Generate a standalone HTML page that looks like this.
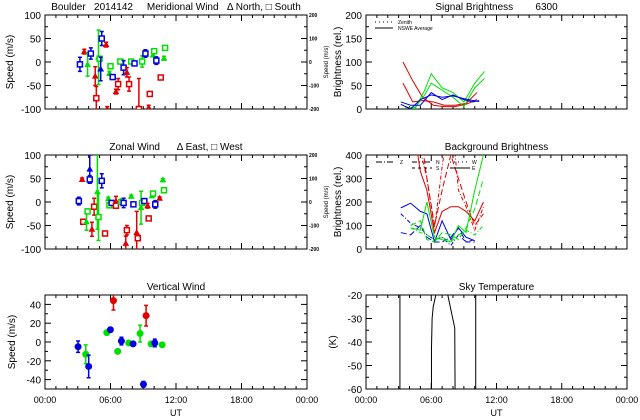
<!DOCTYPE html>
<html><head><meta charset="utf-8"><style>
body{margin:0;background:#fff}
svg{display:block;font-family:"Liberation Sans",sans-serif}
text{fill:#000;white-space:pre}
</style></head><body>
<svg id="c" width="640" height="420" viewBox="0 0 640 420"></svg>
<script>
// ---- Meridional wind ----
const merT=[3.2,3.6,3.9,4.2,4.6,4.7,4.9,5.0,5.1,5.2,5.6,5.7,5.9,6.0,6.2,6.5,6.7,6.9,7.2,7.5,7.7,7.9,8.2,8.6,8.9,9.2,9.5,9.6,9.9,10.0,10.2,10.6,10.9,11.0];
const merV=[-5,22,-5,18,-30,-77,10,7,-15,50,37,-100,-24,-9,-32,-63,-47,1,-12,-22,-47,1,-3,-100,1,18,-97,-68,15,23,3,-33,8,30];
const merE=[15,5,25,12,20,25,58,5,25,15,5,5,4,4,5,5,12,4,15,10,15,3,5,65,12,8,5,5,4,4,8,3,4,3];
const merC=["b","r","g","b","r","r","g","g","b","b","r","r","g","g","b","r","r","g","b","r","r","g","b","r","g","b","r","r","g","g","b","r","g","g"];
const merM=["s","t","t","s","t","s","t","s","t","s","t","t","t","s","s","t","s","s","s","t","s","s","s","s","s","s","t","s","t","s","s","s","t","s"];
// ---- Zonal wind ----
const zonT=[3.1,3.4,3.5,3.8,3.9,4.1,4.1,4.3,4.5,4.8,4.9,5.2,5.5,5.8,5.9,6.1,6.5,6.5,6.9,7.0,7.2,7.4,7.5,7.9,8.1,8.4,8.5,8.8,8.9,9.1,9.4,9.5,9.8,9.9,10.1,10.5,10.8,10.9];
const zonV=[2,48,-42,-42,-20,70,48,-58,-10,22,-32,45,-67,7,-7,-2,2,-8,2,0,-2,-88,-60,12,-5,-65,-77,-12,-2,2,-8,-35,13,18,-5,8,47,25];
const zonE=[8,3,3,18,5,30,8,15,18,80,50,15,5,3,3,5,10,5,3,3,10,15,10,3,3,45,4,35,5,5,5,5,3,3,8,3,3,3];
const zonC=["b","r","r","g","g","b","b","r","r","g","g","b","r","g","g","b","r","r","g","g","b","r","r","g","b","r","r","g","g","b","r","r","g","g","b","r","g","g"];
const zonM=["s","t","s","t","s","t","s","t","s","t","s","s","s","t","s","s","t","s","t","s","s","t","s","t","s","t","s","t","s","s","t","s","t","s","s","t","t","s"];
// ---- Vertical wind ----
const verT=[3.03,3.73,4.0,5.66,5.99,6.27,6.66,7.0,7.67,8.07,8.71,9.02,9.26,9.72,10.06,10.73];
const verV=[-5,-13,-26,10,13,44,-10,1,-1,-2,9,-45,28,-2,-1,-3];
const verE=[6,10,12,2,2,10,2,4,2,2,9,3,11,2,4,2];
const verC=["b","g","b","g","b","r","g","b","g","b","g","b","r","g","b","g"];
// ---- Signal brightness ----
const sigT1=[3.4,4.3,5.2,6.2,7.2,8.2,9.2,10.2];
const sigRed1=[100,60,25,8,5,5,10,20];
const sigRed2=[55,15,18,15,8,8,12,35];
const sigT2=[3.6,4.5,5.4,6.0,7.0,8.0,9.0,10.0,10.9];
const sigGreen1=[5,0,40,75,45,35,15,55,80];
const sigGreen2=[3,3,30,55,40,25,5,45,65];
const sigT3=[3.2,4.1,5.0,6.0,7.0,8.0,9.0,9.8,10.4];
const sigBlue1=[15,8,8,35,20,30,20,15,18];
const sigBlue2=[10,0,20,30,25,28,22,18,16];
// ---- Background brightness ----
const bgT=[3.2,4.1,5.0,5.6,6.3,7.0,7.8,8.5,9.2,10.0,10.8];
const bgRed1=[null,600,330,250,70,160,180,180,160,120,200];
const bgRed2=[null,600,420,300,90,350,600,250,180,80,180];
const bgRed3=[null,null,500,300,100,250,400,300,200,100,150];
const bgBlue1=[175,195,160,150,30,120,40,90,50,35,null];
const bgBlue2=[150,110,90,60,40,50,15,60,30,40,null];
const bgBlue3=[70,60,100,50,30,30,50,90,30,30,null];
const bgGreen1=[null,90,80,200,50,40,30,100,70,250,400];
const bgGreen2=[null,90,70,60,40,50,30,60,80,60,100];
const bgGreen3=[null,100,120,40,30,70,60,40,90,170,300];
// ---- Sky temperature ----
const skyA_T=[3.12,3.12]; const skyA_V=[-60,-20];
const skyB_T=[6.02,6.02,6.08,6.18,6.42]; const skyB_V=[-60,-43,-30,-25,-20];
const skyC_T=[7.52,8.16,8.19]; const skyC_V=[-20,-34,-60];
const skyD_T=[10.09,10.09]; const skyD_V=[-60,-20];

const COL={r:"#e00000",g:"#00e000",b:"#0000e0"};
const svg=document.getElementById('c');
const NS="http://www.w3.org/2000/svg";
function el(tag,attrs,parent){const e=document.createElementNS(NS,tag);for(const k in attrs)e.setAttribute(k,attrs[k]);(parent||svg).appendChild(e);return e;}
function txt(x,y,s,size,anchor,parent,rot){const t=el('text',{x:x,y:y,'font-size':size,'text-anchor':anchor||'middle'},parent);t.setAttributeNS("http://www.w3.org/XML/1998/namespace","xml:space","preserve");if(rot)t.setAttribute('transform','rotate(-90 '+x+' '+y+')');t.textContent=s;return t;}

function makePlot(name,x0,y0,x1,y1,ymin,ymax,yticks,yminor,title,ylab,xlabels,rightAxis,ylabOff){
  const g=el('g',{});
  
  
  const sx=t=>x0+t/24*(x1-x0);
  const sy=v=>y1-(v-ymin)/(ymax-ymin)*(y1-y0);
  el('rect',{x:x0,y:y0,width:x1-x0,height:y1-y0,fill:'none',stroke:'#000','stroke-width':1},g);
  for(let h=0;h<=24;h++){
    const len=(h%6==0)?6:3;const X=sx(h);
    el('line',{x1:X,y1:y1,x2:X,y2:y1-len,stroke:'#000'},g);
    el('line',{x1:X,y1:y0,x2:X,y2:y0+len,stroke:'#000'},g);
  }
  for(let v=ymin;v<=ymax+1e-9;v+=yminor){
    const major=yticks.some(t=>Math.abs(t-v)<1e-6);const len=major?6:3;const Y=sy(v);
    el('line',{x1:x0,y1:Y,x2:x0+len,y2:Y,stroke:'#000'},g);
    el('line',{x1:x1,y1:Y,x2:x1-len,y2:Y,stroke:'#000'},g);
  }
  yticks.forEach(v=>{const lab=txt(x0-4,sy(v)+4,String(v),10,'end',g);});
  const ti=txt((x0+x1)/2,y0-5,title,10,'middle',g);
  
  
  const yl=txt(x0-ylabOff,(y0+y1)/2,ylab,10,'middle',g,true);
  
  
  if(xlabels){
    ['00:00','06:00','12:00','18:00','00:00'].forEach((s,i)=>{const l=txt(sx(i*6),y1+14,s,9,'middle',g);});
    const u=txt((x0+x1)/2,y1+27,'UT',9,'middle',g);
    
    
  }
  if(rightAxis){
    [200,100,0,-100,-200].forEach((v,i)=>{const Y=y0+i*(y1-y0)/4;const l=txt(x1+2,Y+2,String(v),5,'start',g);l.setAttribute('font-weight','bold');});
    const r=txt(x1+21,(y0+y1)/2,'Speed (m/s)',6,'middle',g,true);
    
    
  }
  const cid='clip'+name;
  const cp=el('clipPath',{id:cid},g);el('rect',{x:x0,y:y0,width:x1-x0,height:y1-y0},cp);
  const data=el('g',{'clip-path':'url(#'+cid+')'},g);
  return {g,data,sx,sy};
}

function windPoints(p,T,V,E,C,M,name){
  for(let i=0;i<T.length;i++){
    const X=p.sx(T[i]),Y=p.sy(V[i]),c=COL[C[i]];
    const eb=el('path',{d:`M${X},${p.sy(V[i]+E[i])}V${p.sy(V[i]-E[i])}M${X-2},${p.sy(V[i]+E[i])}h4M${X-2},${p.sy(V[i]-E[i])}h4`,stroke:c,'stroke-width':1.5,fill:'none'},p.data);
    
    
    let m;
    if(M&&M[i]=='t') m=el('path',{d:`M${X-2.5},${Y+2}L${X},${Y-2.5}L${X+2.5},${Y+2}Z`,fill:c,stroke:c},p.data);
    else if(M) m=el('rect',{x:X-2.5,y:Y-2.5,width:5,height:5,fill:'#fff',stroke:c,'stroke-width':1.5},p.data);
    else m=el('circle',{cx:X,cy:Y,r:3.5,fill:c},p.data);
    
    
  }
}
function line(p,T,V,color,name,dash){
  let d='';let pen=false;
  for(let i=0;i<T.length;i++){if(V[i]==null){pen=false;continue;}d+=(pen?'L':'M')+p.sx(T[i])+','+p.sy(V[i]);pen=true;}
  const l=el('path',{d:d,stroke:color,fill:'none','stroke-width':1},p.data);
  if(dash)l.setAttribute('stroke-dasharray',dash);
  
  
}

const p1=makePlot('meridional-wind-panel',45,15,307,109,-100,100,[100,50,0,-50,-100],25,'Boulder   2014142     Meridional Wind   \u0394 North, \u25A1 South','Speed (m/s)',false,true,32);
windPoints(p1,merT,merV,merE,merC,merM,'meridional');
const p2=makePlot('zonal-wind-panel',45,155,307,249,-100,100,[100,50,0,-50,-100],25,'Zonal Wind      \u0394 East, \u25A1 West','Speed (m/s)',false,true,32);
windPoints(p2,zonT,zonV,zonE,zonC,zonM,'zonal');
const p3=makePlot('vertical-wind-panel',45,295,307,389,-50,50,[40,20,0,-20,-40],10,'Vertical Wind','Speed (m/s)',true,false,30);
windPoints(p3,verT,verV,verE,verC,null,'vertical');
const p4=makePlot('signal-brightness-panel',366,15,627,109,0,200,[200,150,100,50,0],25,'Signal Brightness        6300','Brightness (rel.)',false,false,25);
line(p4,sigT1,sigRed1,COL.r,'signal-red-line');
line(p4,sigT1,sigRed2,COL.r,'signal-red-line');
line(p4,sigT2,sigGreen1,COL.g,'signal-green-line');
line(p4,sigT2,sigGreen2,COL.g,'signal-green-line');
line(p4,sigT3,sigBlue1,COL.b,'signal-blue-line');
line(p4,sigT3,sigBlue2,COL.b,'signal-blue-line');
const lg=el('g',{});


el('line',{x1:375,y1:22,x2:393,y2:22,stroke:'#000','stroke-dasharray':'1,3'},lg);
el('line',{x1:375,y1:28,x2:393,y2:28,stroke:'#000'},lg);
txt(398,24,'Zenith',5,'start',lg);
txt(398,30,'NSWE Average',5,'start',lg);
const p5=makePlot('background-brightness-panel',366,155,627,249,0,400,[400,300,200,100,0],50,'Background Brightness','Brightness (rel.)',false,false,25);
line(p5,bgT,bgRed1,COL.r,'background-red-line');
line(p5,bgT,bgRed2,COL.r,'background-red-line','4,2,1,2');
line(p5,bgT,bgRed3,COL.r,'background-red-line','6,3');
line(p5,bgT,bgBlue1,COL.b,'background-blue-line');
line(p5,bgT,bgBlue2,COL.b,'background-blue-line','4,2,1,2');
line(p5,bgT,bgBlue3,COL.b,'background-blue-line','6,3');
line(p5,bgT,bgGreen1,COL.g,'background-green-line');
line(p5,bgT,bgGreen2,COL.g,'background-green-line','4,2,1,2');
line(p5,bgT,bgGreen3,COL.g,'background-green-line','6,3');
const lg2=el('g',{});


el('line',{x1:376,y1:162,x2:394,y2:162,stroke:'#000','stroke-dasharray':'6,2,1,2'},lg2);txt(400,164,'Z',5,'start',lg2);
el('line',{x1:412,y1:162,x2:432,y2:162,stroke:'#000','stroke-dasharray':'5,2,1,2,1,2'},lg2);txt(436,164,'N',5,'start',lg2);
el('line',{x1:412,y1:168,x2:432,y2:168,stroke:'#000','stroke-dasharray':'3,3'},lg2);txt(436,170,'S',5,'start',lg2);
el('line',{x1:450,y1:162,x2:470,y2:162,stroke:'#000','stroke-dasharray':'1,3'},lg2);txt(472,164,'W',5,'start',lg2);
el('line',{x1:450,y1:168,x2:470,y2:168,stroke:'#000'},lg2);txt(472,170,'E',5,'start',lg2);
const p6=makePlot('sky-temperature-panel',366,295,627,389,-60,-20,[-20,-30,-40,-50,-60],5,'Sky Temperature','(K)',true,false,30);
line(p6,skyA_T,skyA_V,'#000','sky-temp-line');
line(p6,skyB_T,skyB_V,'#000','sky-temp-line');
line(p6,skyC_T,skyC_V,'#000','sky-temp-line');
line(p6,skyD_T,skyD_V,'#000','sky-temp-line');
</script>
</body></html>
